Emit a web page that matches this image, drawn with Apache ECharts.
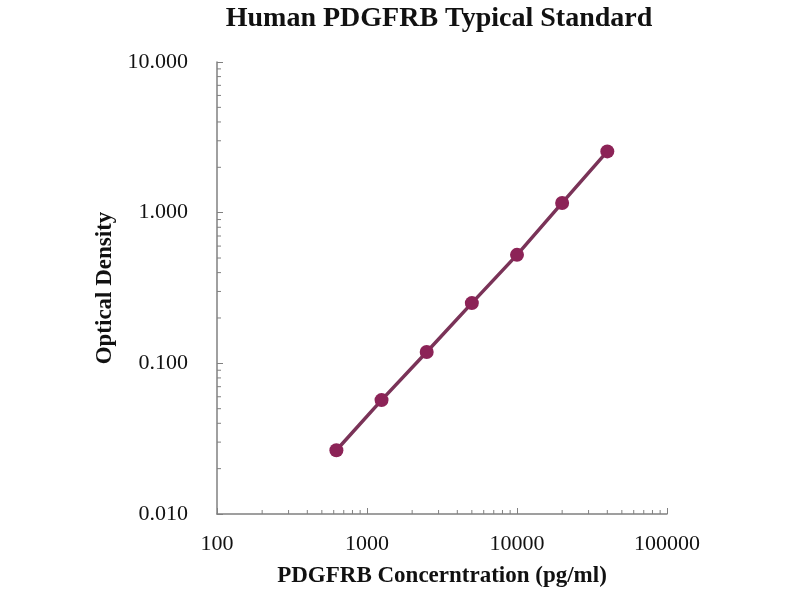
<!DOCTYPE html>
<html>
<head>
<meta charset="utf-8">
<script src="https://cdn.jsdelivr.net/npm/echarts@6/dist/echarts.min.js"></script>
<style>html,body{margin:0;padding:0;background:#fff}#c{width:800px;height:600px}</style>
</head>
<body>
<div id="c"></div>
<script>
const concentrations = [625, 1250, 2500, 5000, 10000, 20000, 40000];
const opticalDensity = [0.0265, 0.057, 0.119, 0.251, 0.525, 1.16, 2.55];
const xMinorTicks = [200,300,400,500,600,700,800,900,2000,3000,4000,5000,6000,7000,8000,9000,20000,30000,40000,50000,60000,70000,80000,90000];
const yMinorTicks = [0.02,0.03,0.04,0.05,0.06,0.07,0.08,0.09,0.2,0.3,0.4,0.5,0.6,0.7,0.8,0.9,2,3,4,5,6,7,8,9];
const xRange = [100, 100000];
const yRange = [0.01, 10];

const chart = echarts.init(document.getElementById('c'));
const axisColor = '#808080';
const serif = '"Liberation Serif", "Times New Roman", serif';

chart.setOption({
  animation: false,
  title: {
    text: 'Human PDGFRB Typical Standard',
    left: 434, top: 0, textAlign: 'center',
    textStyle: { fontFamily: serif, fontWeight: 'bold', fontSize: 28, color: '#111' }
  },
  grid: { left: 217, right: 133, top: 62, bottom: 86 },
  xAxis: {
    type: 'log', logBase: 10, min: xRange[0], max: xRange[1],
    name: 'PDGFRB Concerntration (pg/ml)', nameLocation: 'middle', nameGap: 51,
    nameTextStyle: { fontFamily: serif, fontWeight: 'bold', fontSize: 23, color: '#111' },
    axisLine: { lineStyle: { color: axisColor, width: 1.5 } },
    axisTick: { inside: true, length: 6, lineStyle: { color: axisColor } },
    axisLabel: { fontFamily: serif, fontSize: 22, color: '#111', margin: 19,
      formatter: v => String(Math.round(v)) },
    splitLine: { show: false }
  },
  yAxis: {
    type: 'log', logBase: 10, min: yRange[0], max: yRange[1],
    name: 'Optical Density', nameLocation: 'middle', nameGap: 100,
    nameTextStyle: { fontFamily: serif, fontWeight: 'bold', fontSize: 23, color: '#111' },
    axisLine: { show: true, lineStyle: { color: axisColor, width: 1.5 } },
    axisTick: { show: true, inside: true, length: 6, lineStyle: { color: axisColor } },
    axisLabel: { fontFamily: serif, fontSize: 22, color: '#111', margin: 29,
      formatter: v => Number(v).toFixed(3) },
    splitLine: { show: false }
  },
  series: [
    {
      type: 'custom', silent: true, clip: false,
      data: xMinorTicks.map(v => [v, yRange[0]]),
      renderItem: (params, api) => {
        const p = api.coord([api.value(0), api.value(1)]);
        return { type: 'line', shape: { x1: p[0], y1: p[1], x2: p[0], y2: p[1] - 4 },
          style: { stroke: axisColor, lineWidth: 1 } };
      },
      z: 1
    },
    {
      type: 'custom', silent: true, clip: false,
      data: yMinorTicks.map(v => [xRange[0], v]),
      renderItem: (params, api) => {
        const p = api.coord([api.value(0), api.value(1)]);
        return { type: 'line', shape: { x1: p[0], y1: p[1], x2: p[0] + 4, y2: p[1] },
          style: { stroke: axisColor, lineWidth: 1 } };
      },
      z: 1
    },
    {
      type: 'line',
      data: concentrations.map((c, i) => [c, opticalDensity[i]]),
      symbol: 'circle', symbolSize: 14,
      lineStyle: { color: '#7a3358', width: 3.5 },
      itemStyle: { color: '#8c2357' },
      z: 3
    }
  ]
});
</script>
</body>
</html>
